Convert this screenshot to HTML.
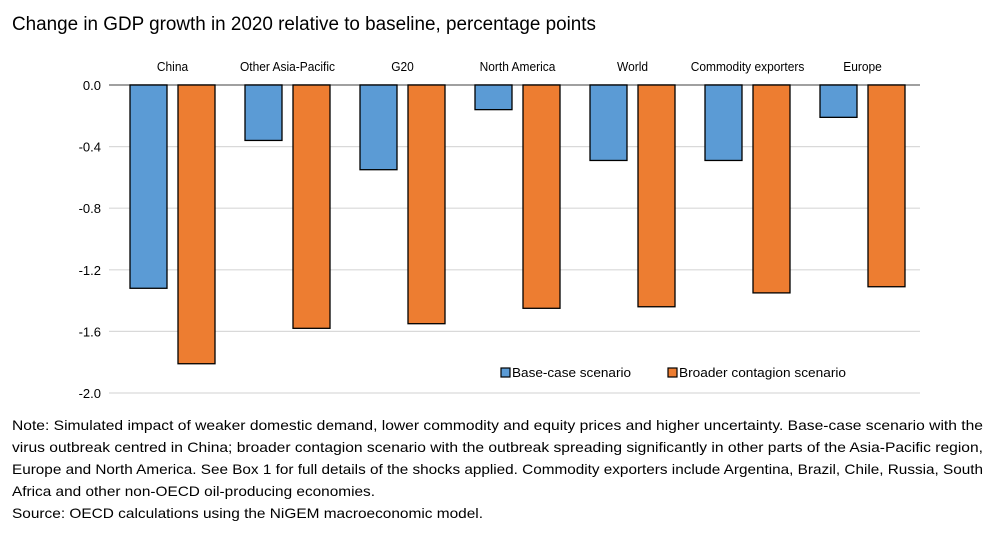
<!DOCTYPE html>
<html><head><meta charset="utf-8"><style>
body{margin:0;width:1005px;height:537px;background:#fff;overflow:hidden;font-family:"Liberation Sans",Arial,sans-serif}
svg{position:absolute;left:0;top:0}
</style></head><body>
<svg id="c" width="1005" height="537">
<text x="12" y="30" font-size="19" textLength="584" lengthAdjust="spacingAndGlyphs" fill="#000">Change in GDP growth in 2020 relative to baseline, percentage points</text>
<g id="grid"></g><g id="bars"></g><g id="labels"></g>
<g>
<rect x="501" y="368" width="9" height="9" fill="#5b9bd5" stroke="#000" stroke-width="1.2"/>
<text x="512" y="377" font-size="13" fill="#000" textLength="119" lengthAdjust="spacingAndGlyphs">Base-case scenario</text>
<rect x="668" y="368" width="9" height="9" fill="#ed7d31" stroke="#000" stroke-width="1.2"/>
<text x="679" y="377" font-size="13" fill="#000" textLength="167" lengthAdjust="spacingAndGlyphs">Broader contagion scenario</text>
</g>
<g font-size="14" fill="#000">
<text x="12" y="430" textLength="971" lengthAdjust="spacingAndGlyphs">Note: Simulated impact of weaker domestic demand, lower commodity and equity prices and higher uncertainty. Base-case scenario with the</text>
<text x="12" y="452" textLength="971" lengthAdjust="spacingAndGlyphs">virus outbreak centred in China; broader contagion scenario with the outbreak spreading significantly in other parts of the Asia-Pacific region,</text>
<text x="12" y="474" textLength="971" lengthAdjust="spacingAndGlyphs">Europe and North America. See Box 1 for full details of the shocks applied. Commodity exporters include Argentina, Brazil, Chile, Russia, South</text>
<text x="12" y="496" textLength="363" lengthAdjust="spacingAndGlyphs">Africa and other non-OECD oil-producing economies.</text>
<text x="12" y="518" textLength="471" lengthAdjust="spacingAndGlyphs">Source: OECD calculations using the NiGEM macroeconomic model.</text>
</g>
</svg>
<script>
const categories=["China","Other Asia-Pacific","G20","North America","World","Commodity exporters","Europe"];
const baseCase=[-1.32,-0.36,-0.55,-0.16,-0.49,-0.49,-0.21];
const broader=[-1.81,-1.58,-1.55,-1.45,-1.44,-1.35,-1.31];
const yTicks=[0,-0.4,-0.8,-1.2,-1.6,-2.0];
const NS="http://www.w3.org/2000/svg";
const x0=115,x1=920,y0=85,pxPerUnit=154,catW=(x1-x0)/categories.length;
const y=v=>y0-v*pxPerUnit;
function mk(tag,attrs,parent){const e=document.createElementNS(NS,tag);for(const k in attrs)e.setAttribute(k,attrs[k]);parent.appendChild(e);return e;}
const grid=document.getElementById('grid'),bars=document.getElementById('bars'),labels=document.getElementById('labels');
yTicks.forEach(t=>{
  const l=mk('line',{x1:x0-6,x2:x1,y1:y(t),y2:y(t),stroke:t===0?'#808080':'#d9d9d9','stroke-width':t===0?1.5:1.2},grid);
  
  
  const tx=mk('text',{x:x0-14,y:y(t)+5,'font-size':13,'text-anchor':'end',fill:'#000'},labels);
  tx.textContent=t.toFixed(1);
  
  
});
categories.forEach((c,i)=>{
  const cx=x0+i*catW;
  const b=mk('rect',{x:cx+15,y:y0,width:37,height:y(baseCase[i])-y0,fill:'#5b9bd5',stroke:'#000','stroke-width':1.3},bars);
  
  
  const o=mk('rect',{x:cx+63,y:y0,width:37,height:y(broader[i])-y0,fill:'#ed7d31',stroke:'#000','stroke-width':1.3},bars);
  
  
  const mid=cx+catW/2;
  const t=mk('text',{x:0,y:71,'font-size':13,'text-anchor':'middle',fill:'#000',transform:'translate('+mid+',0) scale(0.92,1)'},labels);
  t.textContent=c;
  
  
});
</script>
</body></html>
